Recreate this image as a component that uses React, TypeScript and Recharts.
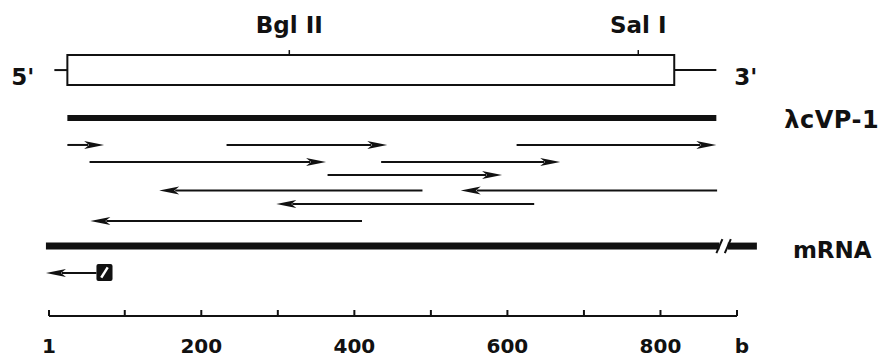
import { ComposedChart, XAxis, YAxis, ReferenceLine, ReferenceArea, ReferenceDot, Scatter } from 'recharts';

// x in bases, y in track rows (16px each, 0 at top)
const INK = '#111';
const FONT = '"DejaVu Sans", sans-serif';

const siteNames = ['Bgl II', 'Sal I'];
const sitePos = [315, 771];

const geneSpan = [25, 818];
const geneRows = [3.44, 5.31];
const flank5 = [8, 25];
const flank3 = [818, 873];
const geneRow = 4.38;

const cloneSpan = [25, 873];
const cloneRow = 7.38;

const fragFrom = [25, 233, 612, 54, 435, 365, 489, 874, 635, 410];
const fragTo = [73, 443, 873, 363, 669, 593, 145, 539, 298, 55];
const fragRow = [9.06, 9.06, 9.06, 10.13, 10.13, 10.94, 11.91, 11.91, 12.75, 13.81];

const mrnaSpan = [-3, 877];
const mrnaTail = [888, 926];
const mrnaRow = 15.38;

const primerArrow = [63, -3];
const primerBox = [63, 84];
const primerRows = [16.5, 17.56];
const primerRow = 17.06;

const axisTicks = [1, 100, 200, 300, 400, 500, 600, 700, 800, 900];
const axisLabels = ['1', '', '200', '', '400', '', '600', '', '800', 'b'];

const siteData = siteNames.map((name, i) => ({ x: sitePos[i], y: geneRows[0], name }));

function ArrowLine(props: any) {
  const { x1, y1, x2, y2 } = props;
  const dir = x2 >= x1 ? 1 : -1;
  const len = 20;
  const half = 4;
  const back = x2 - dir * len;
  return (
    <g>
      <line x1={x1} y1={y1} x2={back + dir * 4} y2={y2} stroke={INK} strokeWidth={2} />
      <polygon
        points={`${x2},${y2} ${back},${y2 - half} ${back + dir * 5},${y2} ${back},${y2 + half}`}
        fill={INK}
      />
    </g>
  );
}

function BreakLine(props: any) {
  const { x1, y1, x2 } = props;
  return (
    <g stroke={INK}>
      <line x1={x1} y1={y1} x2={x2} y2={y1} strokeWidth={7} />
      <line x1={x2 - 3} y1={y1 + 7} x2={x2 + 3} y2={y1 - 7} strokeWidth={2} />
    </g>
  );
}

function TailLine(props: any) {
  const { x1, y1, x2 } = props;
  return (
    <g stroke={INK}>
      <line x1={x1} y1={y1} x2={x2} y2={y1} strokeWidth={7} />
      <line x1={x1 - 3} y1={y1 + 7} x2={x1 + 3} y2={y1 - 7} strokeWidth={2} />
    </g>
  );
}

const label = (text: string, anchor: string, dx: number, dy: number, size = 23, spacing = 0) =>
  (p: any) => (
    <text
      x={p.cx + dx}
      y={p.cy + dy}
      textAnchor={anchor}
      fontFamily={FONT}
      fontWeight="bold"
      fontSize={size}
      letterSpacing={spacing}
      fill={INK}
    >
      {text}
    </text>
  );

function SiteMark(props: any) {
  const { cx, cy, payload } = props;
  return (
    <g>
      <line x1={cx} y1={cy} x2={cx} y2={cy - 5} stroke={INK} strokeWidth={1.5} />
      <text x={cx} y={cy - 22} textAnchor="middle" fontFamily={FONT} fontWeight="bold" fontSize={23} fill={INK}>
        {payload.name}
      </text>
    </g>
  );
}

function PrimerBox(props: any) {
  const { x, y, width, height } = props;
  return (
    <g>
      <rect x={x} y={y} width={width} height={height} rx={2} fill={INK} />
      <line
        x1={x + width * 0.3}
        y1={y + height * 0.8}
        x2={x + width * 0.7}
        y2={y + height * 0.2}
        stroke="#fff"
        strokeWidth={2.5}
      />
    </g>
  );
}

function AxisTick(props: any) {
  const { x, y, index } = props;
  const text = axisLabels[index];
  return (
    <g>
      <line x1={x} y1={y} x2={x} y2={y - 6} stroke={INK} strokeWidth={2} />
      <text
        x={text === 'b' ? x + 5 : x}
        y={y + 37}
        textAnchor="middle"
        fontFamily={FONT}
        fontWeight="bold"
        fontSize={20}
        fill={INK}
      >
        {text}
      </text>
    </g>
  );
}

export default function App() {
  return (
    <div style={{ width: 885, height: 358, background: '#fff' }}>
      <style>{'body{margin:0;background:#fff}'}</style>
      <ComposedChart width={885} height={358} margin={{ top: 0, right: 148, bottom: 0, left: 49 }}>
        <XAxis
          type="number"
          dataKey="x"
          domain={[1, 900]}
          ticks={axisTicks}
          allowDataOverflow
          height={42}
          tickSize={0}
          tickMargin={0}
          tickLine={false}
          axisLine={{ stroke: INK, strokeWidth: 2 }}
          tick={<AxisTick />}
          interval={0}
        />
        <YAxis type="number" dataKey="y" domain={[0, 19.75]} reversed hide width={0} allowDataOverflow />

        <ReferenceLine
          segment={[{ x: flank5[0], y: geneRow }, { x: flank5[1], y: geneRow }]}
          stroke={INK}
          strokeWidth={2}
          ifOverflow="visible"
        />
        <ReferenceLine
          segment={[{ x: flank3[0], y: geneRow }, { x: flank3[1], y: geneRow }]}
          stroke={INK}
          strokeWidth={2}
          ifOverflow="visible"
        />
        <ReferenceArea
          x1={geneSpan[0]}
          x2={geneSpan[1]}
          y1={geneRows[0]}
          y2={geneRows[1]}
          fill="#fff"
          fillOpacity={1}
          stroke={INK}
          strokeWidth={2}
          ifOverflow="visible"
        />
        <ReferenceDot x={flank5[0]} y={geneRow} r={0} ifOverflow="visible" shape={label("5'", 'end', -20, 15)} />
        <ReferenceDot x={flank3[1]} y={geneRow} r={0} ifOverflow="visible" shape={label("3'", 'start', 18, 15)} />

        <ReferenceLine
          segment={[{ x: cloneSpan[0], y: cloneRow }, { x: cloneSpan[1], y: cloneRow }]}
          stroke={INK}
          strokeWidth={6}
          ifOverflow="visible"
        />
        <ReferenceDot
          x={cloneSpan[1]}
          y={cloneRow}
          r={0}
          ifOverflow="visible"
          shape={label('λcVP-1', 'start', 68, 10, 24, 0.5)}
        />

        {fragFrom.map((from, i) => (
          <ReferenceLine
            key={i}
            segment={[{ x: from, y: fragRow[i] }, { x: fragTo[i], y: fragRow[i] }]}
            ifOverflow="visible"
            shape={ArrowLine}
          />
        ))}

        <ReferenceLine
          segment={[{ x: mrnaSpan[0], y: mrnaRow }, { x: mrnaSpan[1], y: mrnaRow }]}
          ifOverflow="visible"
          shape={BreakLine}
        />
        <ReferenceLine
          segment={[{ x: mrnaTail[0], y: mrnaRow }, { x: mrnaTail[1], y: mrnaRow }]}
          ifOverflow="visible"
          shape={TailLine}
        />
        <ReferenceDot x={mrnaTail[1]} y={mrnaRow} r={0} ifOverflow="visible" shape={label('mRNA', 'start', 36, 12)} />

        <ReferenceLine
          segment={[{ x: primerArrow[0], y: primerRow }, { x: primerArrow[1], y: primerRow }]}
          ifOverflow="visible"
          shape={ArrowLine}
        />
        <ReferenceArea
          x1={primerBox[0]}
          x2={primerBox[1]}
          y1={primerRows[0]}
          y2={primerRows[1]}
          ifOverflow="visible"
          shape={PrimerBox}
        />

        <Scatter data={siteData} shape={SiteMark} isAnimationActive={false} />
      </ComposedChart>
    </div>
  );
}
